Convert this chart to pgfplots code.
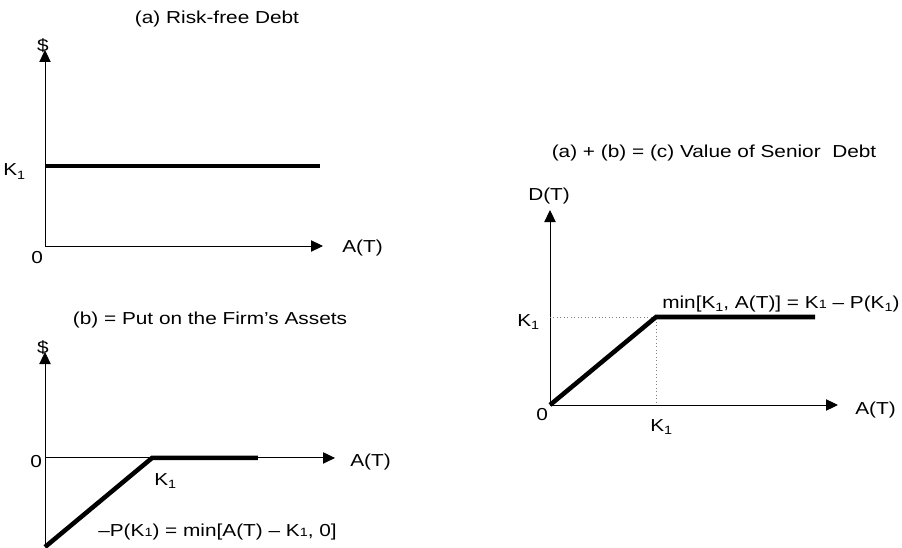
\documentclass[border=0pt]{standalone}
\usepackage{pgfplots}
\pgfplotsset{compat=1.18}
\usetikzlibrary{arrows.meta}
\usepackage{fontspec}
\setmainfont{Liberation Sans}[FakeStretch=1.2]
\newcommand{\sub}{\raisebox{-2.5pt}{\fontsize{9}{8}\selectfont 1}}
\newcommand{\sm}{{\fontsize{9}{8}\selectfont 1}}
\begin{document}
\fontsize{13}{15}\selectfont
\begin{tikzpicture}[x=0.75pt,y=0.75pt]
\useasboundingbox (0,0) rectangle (902,547);
\pgfplotsset{
  myax/.style={
    scale only axis, axis lines=middle, enlargelimits=false,
    xtick=\empty, ytick=\empty, clip=false,
    axis line style={line width=0.75pt,-{Triangle[length=9pt,width=8.5pt]}},
  },
  thick line/.style={black, line width=3.4pt, line cap=butt, line join=miter, no marks},
}
% (a) risk-free debt: origin at px (45,246)
\begin{axis}[myax, at={(33.75pt,225.75pt)}, anchor=south west,
  width=208.5pt, height=147pt, xmin=0, xmax=2.6, ymin=0, ymax=2.45]
\addplot[thick line] coordinates {(0,1) (2.57,1)};
\end{axis}
% (b) put: bottom-left at px (45,547)
\begin{axis}[myax, at={(33.75pt,0pt)}, anchor=south west,
  width=217.5pt, height=146.25pt, xmin=0, xmax=2.71, ymin=-1, ymax=1.19]
\addplot[thick line] coordinates {(0,-1) (1,0) (1.99,0)};
\end{axis}
% (c) senior debt: origin at px (550,405)
\begin{axis}[myax, at={(412.5pt,106.5pt)}, anchor=south west,
  width=216pt, height=146.25pt, xmin=0, xmax=2.717, ymin=0, ymax=2.216]
\addplot[gray, line width=0.6pt, dotted, no marks] coordinates {(0,1) (1,1) (1,0)};
\addplot[thick line] coordinates {(0,0) (1,1) (2.5,1)};
\end{axis}
% labels (a)
\node[anchor=base] at (217,547-24) {(a) Risk-free Debt};
\node[anchor=base] at (43,547-52) {\$};
\node[anchor=base west,inner sep=0pt] at (3,547-176) {K\sub};
\node[anchor=base west,inner sep=0pt] at (31,547-263) {0};
\node[anchor=base west,inner sep=0pt] at (342,547-252) {A(T)};
% labels (b)
\node[anchor=base] at (210,547-324) {(b) = Put on the Firm’s Assets};
\node[anchor=base] at (43,547-353) {\$};
\node[anchor=base west,inner sep=0pt] at (30,547-467) {0};
\node[anchor=base west,inner sep=0pt] at (350,547-466) {A(T)};
\node[anchor=base west,inner sep=0pt] at (154,547-485) {K\sub};
\node[anchor=base west,inner sep=0pt] at (98,547-536) {–P(K\sm) = min[A(T) – K\sm, 0]};
% labels (c)
\node[anchor=base] at (714,547-158) {(a) + (b) = (c) Value of Senior\ \ Debt};
\node[anchor=base west,inner sep=0pt] at (528,547-201) {D(T)};
\node[anchor=base west,inner sep=0pt] at (517,547-326) {K\sub};
\node[anchor=base west,inner sep=0pt] at (536,547-420) {0};
\node[anchor=base west,inner sep=0pt] at (650,547-431) {K\sub};
\node[anchor=base west,inner sep=0pt] at (855,547-414) {A(T)};
\node[anchor=base west,inner sep=0pt] at (662,547-308) {min[K\sub, A(T)] = K\sm{} – P(K\sub)};
\end{tikzpicture}
\end{document}
